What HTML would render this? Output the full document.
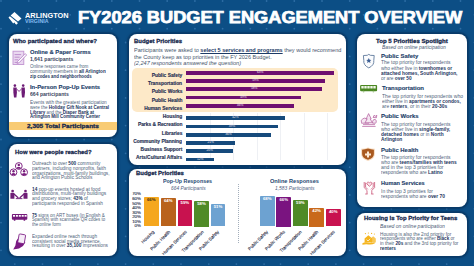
<!DOCTYPE html><html><head><meta charset="utf-8"><style>
*{margin:0;padding:0;box-sizing:border-box}
html,body{width:474px;height:266px;overflow:hidden;background:#0c4e85;font-family:"Liberation Sans",sans-serif}
.pn{position:absolute;background:#fff;border-radius:8px;box-shadow:0 0 0 1px #083a68,0 0 1.5px 1.5px rgba(6,45,85,.6)}
.t{position:absolute;white-space:nowrap;transform-origin:0 0}
.logoA{color:#fff;font-weight:700}
.logoV{color:#86bcef;font-weight:700}
.title{color:#fff;font-weight:700;-webkit-text-stroke:0.75px #fff}
.h{color:#17294d;font-weight:700;-webkit-text-stroke:0.28px #17294d}
.sub{color:#1b3d68;font-weight:700;-webkit-text-stroke:0.12px #1b3d68}
.cnt{color:#3a4560;font-weight:700}
.body{color:#4f5f7a}
.body b{color:#1d3560}
.mbody{color:#46546c}
.mbody b{color:#1c3a66}
.lab{color:#1f2f52;font-weight:700;-webkit-text-stroke:0.15px #1f2f52}
.ch{color:#244872;font-weight:700}
.ci{color:#4f6080;font-style:italic}
.ax{color:#26324d;-webkit-text-stroke:0.12px #26324d}
.ri{color:#4a5a75;font-style:italic}
.rt{color:#1b3d68;font-weight:700;-webkit-text-stroke:0.12px #1b3d68}
.rbody{color:#4f5f7a}
.rbody b{color:#1d3560}
</style></head><body><svg style="position:absolute;left:0;top:0" width="474" height="266"><g fill="#4583bb" opacity="0.6"><circle cx="1.0" cy="1.0" r="0.9"/><circle cx="14.8" cy="14.8" r="0.9"/><circle cx="1.0" cy="28.7" r="0.9"/><circle cx="14.8" cy="42.5" r="0.9"/><circle cx="1.0" cy="56.4" r="0.9"/><circle cx="14.8" cy="70.2" r="0.9"/><circle cx="1.0" cy="84.1" r="0.9"/><circle cx="14.8" cy="97.9" r="0.9"/><circle cx="1.0" cy="111.8" r="0.9"/><circle cx="14.8" cy="125.6" r="0.9"/><circle cx="1.0" cy="139.5" r="0.9"/><circle cx="14.8" cy="153.3" r="0.9"/><circle cx="1.0" cy="167.2" r="0.9"/><circle cx="14.8" cy="181.0" r="0.9"/><circle cx="1.0" cy="194.9" r="0.9"/><circle cx="14.8" cy="208.8" r="0.9"/><circle cx="1.0" cy="222.6" r="0.9"/><circle cx="14.8" cy="236.4" r="0.9"/><circle cx="1.0" cy="250.3" r="0.9"/><circle cx="14.8" cy="264.1" r="0.9"/><circle cx="28.7" cy="1.0" r="0.9"/><circle cx="42.5" cy="14.8" r="0.9"/><circle cx="28.7" cy="28.7" r="0.9"/><circle cx="42.5" cy="42.5" r="0.9"/><circle cx="28.7" cy="56.4" r="0.9"/><circle cx="42.5" cy="70.2" r="0.9"/><circle cx="28.7" cy="84.1" r="0.9"/><circle cx="42.5" cy="97.9" r="0.9"/><circle cx="28.7" cy="111.8" r="0.9"/><circle cx="42.5" cy="125.6" r="0.9"/><circle cx="28.7" cy="139.5" r="0.9"/><circle cx="42.5" cy="153.3" r="0.9"/><circle cx="28.7" cy="167.2" r="0.9"/><circle cx="42.5" cy="181.0" r="0.9"/><circle cx="28.7" cy="194.9" r="0.9"/><circle cx="42.5" cy="208.8" r="0.9"/><circle cx="28.7" cy="222.6" r="0.9"/><circle cx="42.5" cy="236.4" r="0.9"/><circle cx="28.7" cy="250.3" r="0.9"/><circle cx="42.5" cy="264.1" r="0.9"/><circle cx="56.4" cy="1.0" r="0.9"/><circle cx="70.2" cy="14.8" r="0.9"/><circle cx="56.4" cy="28.7" r="0.9"/><circle cx="70.2" cy="42.5" r="0.9"/><circle cx="56.4" cy="56.4" r="0.9"/><circle cx="70.2" cy="70.2" r="0.9"/><circle cx="56.4" cy="84.1" r="0.9"/><circle cx="70.2" cy="97.9" r="0.9"/><circle cx="56.4" cy="111.8" r="0.9"/><circle cx="70.2" cy="125.6" r="0.9"/><circle cx="56.4" cy="139.5" r="0.9"/><circle cx="70.2" cy="153.3" r="0.9"/><circle cx="56.4" cy="167.2" r="0.9"/><circle cx="70.2" cy="181.0" r="0.9"/><circle cx="56.4" cy="194.9" r="0.9"/><circle cx="70.2" cy="208.8" r="0.9"/><circle cx="56.4" cy="222.6" r="0.9"/><circle cx="70.2" cy="236.4" r="0.9"/><circle cx="56.4" cy="250.3" r="0.9"/><circle cx="70.2" cy="264.1" r="0.9"/><circle cx="84.1" cy="1.0" r="0.9"/><circle cx="97.9" cy="14.8" r="0.9"/><circle cx="84.1" cy="28.7" r="0.9"/><circle cx="97.9" cy="42.5" r="0.9"/><circle cx="84.1" cy="56.4" r="0.9"/><circle cx="97.9" cy="70.2" r="0.9"/><circle cx="84.1" cy="84.1" r="0.9"/><circle cx="97.9" cy="97.9" r="0.9"/><circle cx="84.1" cy="111.8" r="0.9"/><circle cx="97.9" cy="125.6" r="0.9"/><circle cx="84.1" cy="139.5" r="0.9"/><circle cx="97.9" cy="153.3" r="0.9"/><circle cx="84.1" cy="167.2" r="0.9"/><circle cx="97.9" cy="181.0" r="0.9"/><circle cx="84.1" cy="194.9" r="0.9"/><circle cx="97.9" cy="208.8" r="0.9"/><circle cx="84.1" cy="222.6" r="0.9"/><circle cx="97.9" cy="236.4" r="0.9"/><circle cx="84.1" cy="250.3" r="0.9"/><circle cx="97.9" cy="264.1" r="0.9"/><circle cx="111.8" cy="1.0" r="0.9"/><circle cx="125.6" cy="14.8" r="0.9"/><circle cx="111.8" cy="28.7" r="0.9"/><circle cx="125.6" cy="42.5" r="0.9"/><circle cx="111.8" cy="56.4" r="0.9"/><circle cx="125.6" cy="70.2" r="0.9"/><circle cx="111.8" cy="84.1" r="0.9"/><circle cx="125.6" cy="97.9" r="0.9"/><circle cx="111.8" cy="111.8" r="0.9"/><circle cx="125.6" cy="125.6" r="0.9"/><circle cx="111.8" cy="139.5" r="0.9"/><circle cx="125.6" cy="153.3" r="0.9"/><circle cx="111.8" cy="167.2" r="0.9"/><circle cx="125.6" cy="181.0" r="0.9"/><circle cx="111.8" cy="194.9" r="0.9"/><circle cx="125.6" cy="208.8" r="0.9"/><circle cx="111.8" cy="222.6" r="0.9"/><circle cx="125.6" cy="236.4" r="0.9"/><circle cx="111.8" cy="250.3" r="0.9"/><circle cx="125.6" cy="264.1" r="0.9"/><circle cx="139.5" cy="1.0" r="0.9"/><circle cx="153.3" cy="14.8" r="0.9"/><circle cx="139.5" cy="28.7" r="0.9"/><circle cx="153.3" cy="42.5" r="0.9"/><circle cx="139.5" cy="56.4" r="0.9"/><circle cx="153.3" cy="70.2" r="0.9"/><circle cx="139.5" cy="84.1" r="0.9"/><circle cx="153.3" cy="97.9" r="0.9"/><circle cx="139.5" cy="111.8" r="0.9"/><circle cx="153.3" cy="125.6" r="0.9"/><circle cx="139.5" cy="139.5" r="0.9"/><circle cx="153.3" cy="153.3" r="0.9"/><circle cx="139.5" cy="167.2" r="0.9"/><circle cx="153.3" cy="181.0" r="0.9"/><circle cx="139.5" cy="194.9" r="0.9"/><circle cx="153.3" cy="208.8" r="0.9"/><circle cx="139.5" cy="222.6" r="0.9"/><circle cx="153.3" cy="236.4" r="0.9"/><circle cx="139.5" cy="250.3" r="0.9"/><circle cx="153.3" cy="264.1" r="0.9"/><circle cx="167.2" cy="1.0" r="0.9"/><circle cx="181.0" cy="14.8" r="0.9"/><circle cx="167.2" cy="28.7" r="0.9"/><circle cx="181.0" cy="42.5" r="0.9"/><circle cx="167.2" cy="56.4" r="0.9"/><circle cx="181.0" cy="70.2" r="0.9"/><circle cx="167.2" cy="84.1" r="0.9"/><circle cx="181.0" cy="97.9" r="0.9"/><circle cx="167.2" cy="111.8" r="0.9"/><circle cx="181.0" cy="125.6" r="0.9"/><circle cx="167.2" cy="139.5" r="0.9"/><circle cx="181.0" cy="153.3" r="0.9"/><circle cx="167.2" cy="167.2" r="0.9"/><circle cx="181.0" cy="181.0" r="0.9"/><circle cx="167.2" cy="194.9" r="0.9"/><circle cx="181.0" cy="208.8" r="0.9"/><circle cx="167.2" cy="222.6" r="0.9"/><circle cx="181.0" cy="236.4" r="0.9"/><circle cx="167.2" cy="250.3" r="0.9"/><circle cx="181.0" cy="264.1" r="0.9"/><circle cx="194.9" cy="1.0" r="0.9"/><circle cx="208.8" cy="14.8" r="0.9"/><circle cx="194.9" cy="28.7" r="0.9"/><circle cx="208.8" cy="42.5" r="0.9"/><circle cx="194.9" cy="56.4" r="0.9"/><circle cx="208.8" cy="70.2" r="0.9"/><circle cx="194.9" cy="84.1" r="0.9"/><circle cx="208.8" cy="97.9" r="0.9"/><circle cx="194.9" cy="111.8" r="0.9"/><circle cx="208.8" cy="125.6" r="0.9"/><circle cx="194.9" cy="139.5" r="0.9"/><circle cx="208.8" cy="153.3" r="0.9"/><circle cx="194.9" cy="167.2" r="0.9"/><circle cx="208.8" cy="181.0" r="0.9"/><circle cx="194.9" cy="194.9" r="0.9"/><circle cx="208.8" cy="208.8" r="0.9"/><circle cx="194.9" cy="222.6" r="0.9"/><circle cx="208.8" cy="236.4" r="0.9"/><circle cx="194.9" cy="250.3" r="0.9"/><circle cx="208.8" cy="264.1" r="0.9"/><circle cx="222.6" cy="1.0" r="0.9"/><circle cx="236.4" cy="14.8" r="0.9"/><circle cx="222.6" cy="28.7" r="0.9"/><circle cx="236.4" cy="42.5" r="0.9"/><circle cx="222.6" cy="56.4" r="0.9"/><circle cx="236.4" cy="70.2" r="0.9"/><circle cx="222.6" cy="84.1" r="0.9"/><circle cx="236.4" cy="97.9" r="0.9"/><circle cx="222.6" cy="111.8" r="0.9"/><circle cx="236.4" cy="125.6" r="0.9"/><circle cx="222.6" cy="139.5" r="0.9"/><circle cx="236.4" cy="153.3" r="0.9"/><circle cx="222.6" cy="167.2" r="0.9"/><circle cx="236.4" cy="181.0" r="0.9"/><circle cx="222.6" cy="194.9" r="0.9"/><circle cx="236.4" cy="208.8" r="0.9"/><circle cx="222.6" cy="222.6" r="0.9"/><circle cx="236.4" cy="236.4" r="0.9"/><circle cx="222.6" cy="250.3" r="0.9"/><circle cx="236.4" cy="264.1" r="0.9"/><circle cx="250.3" cy="1.0" r="0.9"/><circle cx="264.1" cy="14.8" r="0.9"/><circle cx="250.3" cy="28.7" r="0.9"/><circle cx="264.1" cy="42.5" r="0.9"/><circle cx="250.3" cy="56.4" r="0.9"/><circle cx="264.1" cy="70.2" r="0.9"/><circle cx="250.3" cy="84.1" r="0.9"/><circle cx="264.1" cy="97.9" r="0.9"/><circle cx="250.3" cy="111.8" r="0.9"/><circle cx="264.1" cy="125.6" r="0.9"/><circle cx="250.3" cy="139.5" r="0.9"/><circle cx="264.1" cy="153.3" r="0.9"/><circle cx="250.3" cy="167.2" r="0.9"/><circle cx="264.1" cy="181.0" r="0.9"/><circle cx="250.3" cy="194.9" r="0.9"/><circle cx="264.1" cy="208.8" r="0.9"/><circle cx="250.3" cy="222.6" r="0.9"/><circle cx="264.1" cy="236.4" r="0.9"/><circle cx="250.3" cy="250.3" r="0.9"/><circle cx="264.1" cy="264.1" r="0.9"/><circle cx="266.6" cy="1.0" r="0.9"/><circle cx="280.5" cy="14.8" r="0.9"/><circle cx="266.6" cy="28.7" r="0.9"/><circle cx="280.5" cy="42.5" r="0.9"/><circle cx="266.6" cy="56.4" r="0.9"/><circle cx="280.5" cy="70.2" r="0.9"/><circle cx="266.6" cy="84.1" r="0.9"/><circle cx="280.5" cy="97.9" r="0.9"/><circle cx="266.6" cy="111.8" r="0.9"/><circle cx="280.5" cy="125.6" r="0.9"/><circle cx="266.6" cy="139.5" r="0.9"/><circle cx="280.5" cy="153.3" r="0.9"/><circle cx="266.6" cy="167.2" r="0.9"/><circle cx="280.5" cy="181.0" r="0.9"/><circle cx="266.6" cy="194.9" r="0.9"/><circle cx="280.5" cy="208.8" r="0.9"/><circle cx="266.6" cy="222.6" r="0.9"/><circle cx="280.5" cy="236.4" r="0.9"/><circle cx="266.6" cy="250.3" r="0.9"/><circle cx="280.5" cy="264.1" r="0.9"/><circle cx="294.3" cy="1.0" r="0.9"/><circle cx="308.2" cy="14.8" r="0.9"/><circle cx="294.3" cy="28.7" r="0.9"/><circle cx="308.2" cy="42.5" r="0.9"/><circle cx="294.3" cy="56.4" r="0.9"/><circle cx="308.2" cy="70.2" r="0.9"/><circle cx="294.3" cy="84.1" r="0.9"/><circle cx="308.2" cy="97.9" r="0.9"/><circle cx="294.3" cy="111.8" r="0.9"/><circle cx="308.2" cy="125.6" r="0.9"/><circle cx="294.3" cy="139.5" r="0.9"/><circle cx="308.2" cy="153.3" r="0.9"/><circle cx="294.3" cy="167.2" r="0.9"/><circle cx="308.2" cy="181.0" r="0.9"/><circle cx="294.3" cy="194.9" r="0.9"/><circle cx="308.2" cy="208.8" r="0.9"/><circle cx="294.3" cy="222.6" r="0.9"/><circle cx="308.2" cy="236.4" r="0.9"/><circle cx="294.3" cy="250.3" r="0.9"/><circle cx="308.2" cy="264.1" r="0.9"/><circle cx="322.0" cy="1.0" r="0.9"/><circle cx="335.9" cy="14.8" r="0.9"/><circle cx="322.0" cy="28.7" r="0.9"/><circle cx="335.9" cy="42.5" r="0.9"/><circle cx="322.0" cy="56.4" r="0.9"/><circle cx="335.9" cy="70.2" r="0.9"/><circle cx="322.0" cy="84.1" r="0.9"/><circle cx="335.9" cy="97.9" r="0.9"/><circle cx="322.0" cy="111.8" r="0.9"/><circle cx="335.9" cy="125.6" r="0.9"/><circle cx="322.0" cy="139.5" r="0.9"/><circle cx="335.9" cy="153.3" r="0.9"/><circle cx="322.0" cy="167.2" r="0.9"/><circle cx="335.9" cy="181.0" r="0.9"/><circle cx="322.0" cy="194.9" r="0.9"/><circle cx="335.9" cy="208.8" r="0.9"/><circle cx="322.0" cy="222.6" r="0.9"/><circle cx="335.9" cy="236.4" r="0.9"/><circle cx="322.0" cy="250.3" r="0.9"/><circle cx="335.9" cy="264.1" r="0.9"/><circle cx="349.7" cy="1.0" r="0.9"/><circle cx="363.6" cy="14.8" r="0.9"/><circle cx="349.7" cy="28.7" r="0.9"/><circle cx="363.6" cy="42.5" r="0.9"/><circle cx="349.7" cy="56.4" r="0.9"/><circle cx="363.6" cy="70.2" r="0.9"/><circle cx="349.7" cy="84.1" r="0.9"/><circle cx="363.6" cy="97.9" r="0.9"/><circle cx="349.7" cy="111.8" r="0.9"/><circle cx="363.6" cy="125.6" r="0.9"/><circle cx="349.7" cy="139.5" r="0.9"/><circle cx="363.6" cy="153.3" r="0.9"/><circle cx="349.7" cy="167.2" r="0.9"/><circle cx="363.6" cy="181.0" r="0.9"/><circle cx="349.7" cy="194.9" r="0.9"/><circle cx="363.6" cy="208.8" r="0.9"/><circle cx="349.7" cy="222.6" r="0.9"/><circle cx="363.6" cy="236.4" r="0.9"/><circle cx="349.7" cy="250.3" r="0.9"/><circle cx="363.6" cy="264.1" r="0.9"/><circle cx="377.4" cy="1.0" r="0.9"/><circle cx="391.3" cy="14.8" r="0.9"/><circle cx="377.4" cy="28.7" r="0.9"/><circle cx="391.3" cy="42.5" r="0.9"/><circle cx="377.4" cy="56.4" r="0.9"/><circle cx="391.3" cy="70.2" r="0.9"/><circle cx="377.4" cy="84.1" r="0.9"/><circle cx="391.3" cy="97.9" r="0.9"/><circle cx="377.4" cy="111.8" r="0.9"/><circle cx="391.3" cy="125.6" r="0.9"/><circle cx="377.4" cy="139.5" r="0.9"/><circle cx="391.3" cy="153.3" r="0.9"/><circle cx="377.4" cy="167.2" r="0.9"/><circle cx="391.3" cy="181.0" r="0.9"/><circle cx="377.4" cy="194.9" r="0.9"/><circle cx="391.3" cy="208.8" r="0.9"/><circle cx="377.4" cy="222.6" r="0.9"/><circle cx="391.3" cy="236.4" r="0.9"/><circle cx="377.4" cy="250.3" r="0.9"/><circle cx="391.3" cy="264.1" r="0.9"/><circle cx="405.1" cy="1.0" r="0.9"/><circle cx="419.0" cy="14.8" r="0.9"/><circle cx="405.1" cy="28.7" r="0.9"/><circle cx="419.0" cy="42.5" r="0.9"/><circle cx="405.1" cy="56.4" r="0.9"/><circle cx="419.0" cy="70.2" r="0.9"/><circle cx="405.1" cy="84.1" r="0.9"/><circle cx="419.0" cy="97.9" r="0.9"/><circle cx="405.1" cy="111.8" r="0.9"/><circle cx="419.0" cy="125.6" r="0.9"/><circle cx="405.1" cy="139.5" r="0.9"/><circle cx="419.0" cy="153.3" r="0.9"/><circle cx="405.1" cy="167.2" r="0.9"/><circle cx="419.0" cy="181.0" r="0.9"/><circle cx="405.1" cy="194.9" r="0.9"/><circle cx="419.0" cy="208.8" r="0.9"/><circle cx="405.1" cy="222.6" r="0.9"/><circle cx="419.0" cy="236.4" r="0.9"/><circle cx="405.1" cy="250.3" r="0.9"/><circle cx="419.0" cy="264.1" r="0.9"/><circle cx="432.8" cy="1.0" r="0.9"/><circle cx="446.7" cy="14.8" r="0.9"/><circle cx="432.8" cy="28.7" r="0.9"/><circle cx="446.7" cy="42.5" r="0.9"/><circle cx="432.8" cy="56.4" r="0.9"/><circle cx="446.7" cy="70.2" r="0.9"/><circle cx="432.8" cy="84.1" r="0.9"/><circle cx="446.7" cy="97.9" r="0.9"/><circle cx="432.8" cy="111.8" r="0.9"/><circle cx="446.7" cy="125.6" r="0.9"/><circle cx="432.8" cy="139.5" r="0.9"/><circle cx="446.7" cy="153.3" r="0.9"/><circle cx="432.8" cy="167.2" r="0.9"/><circle cx="446.7" cy="181.0" r="0.9"/><circle cx="432.8" cy="194.9" r="0.9"/><circle cx="446.7" cy="208.8" r="0.9"/><circle cx="432.8" cy="222.6" r="0.9"/><circle cx="446.7" cy="236.4" r="0.9"/><circle cx="432.8" cy="250.3" r="0.9"/><circle cx="446.7" cy="264.1" r="0.9"/><circle cx="460.5" cy="1.0" r="0.9"/><circle cx="474.4" cy="14.8" r="0.9"/><circle cx="460.5" cy="28.7" r="0.9"/><circle cx="474.4" cy="42.5" r="0.9"/><circle cx="460.5" cy="56.4" r="0.9"/><circle cx="474.4" cy="70.2" r="0.9"/><circle cx="460.5" cy="84.1" r="0.9"/><circle cx="474.4" cy="97.9" r="0.9"/><circle cx="460.5" cy="111.8" r="0.9"/><circle cx="474.4" cy="125.6" r="0.9"/><circle cx="460.5" cy="139.5" r="0.9"/><circle cx="474.4" cy="153.3" r="0.9"/><circle cx="460.5" cy="167.2" r="0.9"/><circle cx="474.4" cy="181.0" r="0.9"/><circle cx="460.5" cy="194.9" r="0.9"/><circle cx="474.4" cy="208.8" r="0.9"/><circle cx="460.5" cy="222.6" r="0.9"/><circle cx="474.4" cy="236.4" r="0.9"/><circle cx="460.5" cy="250.3" r="0.9"/><circle cx="474.4" cy="264.1" r="0.9"/></g></svg><!-- panels -->
<div class="pn" style="left:8.5px;top:34px;width:108px;height:103px"></div>
<div class="pn" style="left:8.5px;top:144px;width:108px;height:112px"></div>
<div class="pn" style="left:128.5px;top:34px;width:217px;height:130.5px"></div>
<div class="pn" style="left:128.5px;top:168.5px;width:217px;height:87.5px"></div>
<div class="pn" style="left:357px;top:34px;width:110px;height:173px"></div>
<div class="pn" style="left:357px;top:213px;width:110px;height:43px"></div>
<!-- total bar -->
<div style="position:absolute;left:8.5px;top:122px;width:108px;height:7.6px;background:#f8cb74"></div>
<!-- band -->
<div style="position:absolute;left:131.8px;top:68.4px;width:206.2px;height:44px;background:#fde9c8;border-radius:5px"></div>
<div style="position:absolute;left:209.6px;top:113px;width:0.5px;height:47px;background:#eef0f4"></div>
<div style="position:absolute;left:233.1px;top:113px;width:0.5px;height:47px;background:#eef0f4"></div>
<div style="position:absolute;left:256.6px;top:113px;width:0.5px;height:47px;background:#eef0f4"></div>
<div style="position:absolute;left:280.3px;top:113px;width:0.5px;height:47px;background:#eef0f4"></div>
<div style="position:absolute;left:303.8px;top:113px;width:0.5px;height:47px;background:#eef0f4"></div>
<div style="position:absolute;left:327.1px;top:113px;width:0.5px;height:47px;background:#eef0f4"></div>
<div style="position:absolute;left:186.1px;top:70.85px;width:148.10px;height:3.7px;background:#6e0f70;color:#f3e9f5;font-size:3.2px;line-height:3.7px;text-align:center;font-family:'Liberation Sans',sans-serif">63%</div>
<div style="position:absolute;left:186.1px;top:79.12px;width:138.70px;height:3.7px;background:#6e0f70;color:#f3e9f5;font-size:3.2px;line-height:3.7px;text-align:center;font-family:'Liberation Sans',sans-serif">59%</div>
<div style="position:absolute;left:186.1px;top:87.39px;width:136.20px;height:3.7px;background:#6e0f70;color:#f3e9f5;font-size:3.2px;line-height:3.7px;text-align:center;font-family:'Liberation Sans',sans-serif">58%</div>
<div style="position:absolute;left:186.1px;top:95.66px;width:114.80px;height:3.7px;background:#6e0f70;color:#f3e9f5;font-size:3.2px;line-height:3.7px;text-align:center;font-family:'Liberation Sans',sans-serif">49%</div>
<div style="position:absolute;left:186.1px;top:103.93px;width:108.30px;height:3.7px;background:#6e0f70;color:#f3e9f5;font-size:3.2px;line-height:3.7px;text-align:center;font-family:'Liberation Sans',sans-serif">46%</div>
<div style="position:absolute;left:186.1px;top:116.30px;width:98.60px;height:3.7px;background:#164a7c;color:#f3e9f5;font-size:3.2px;line-height:3.7px;text-align:center;font-family:'Liberation Sans',sans-serif">42%</div>
<div style="position:absolute;left:186.1px;top:124.57px;width:91.60px;height:3.7px;background:#164a7c;color:#f3e9f5;font-size:3.2px;line-height:3.7px;text-align:center;font-family:'Liberation Sans',sans-serif">39%</div>
<div style="position:absolute;left:186.1px;top:132.84px;width:84.50px;height:3.7px;background:#164a7c;color:#f3e9f5;font-size:3.2px;line-height:3.7px;text-align:center;font-family:'Liberation Sans',sans-serif">36%</div>
<div style="position:absolute;left:186.1px;top:141.11px;width:49.30px;height:3.7px;background:#164a7c;color:#f3e9f5;font-size:3.2px;line-height:3.7px;text-align:center;font-family:'Liberation Sans',sans-serif">21%</div>
<div style="position:absolute;left:186.1px;top:149.38px;width:47.20px;height:3.7px;background:#164a7c;color:#f3e9f5;font-size:3.2px;line-height:3.7px;text-align:center;font-family:'Liberation Sans',sans-serif">20%</div>
<div style="position:absolute;left:186.1px;top:157.65px;width:28.00px;height:3.7px;background:#164a7c;color:#f3e9f5;font-size:3.2px;line-height:3.7px;text-align:center;font-family:'Liberation Sans',sans-serif">12%</div>
<div style="position:absolute;left:143.8px;top:196.7px;width:14.8px;height:29.8px;background:#f5a71e;border-radius:0.8px 0.8px 0 0;color:#3a2a10;font-size:4.3px;font-weight:700;text-align:center;padding-top:1.2px;line-height:4.3px;font-family:'Liberation Sans',sans-serif">66%</div>
<div style="position:absolute;left:160.9px;top:197.6px;width:14.8px;height:28.9px;background:#b9621c;border-radius:0.8px 0.8px 0 0;color:#fff;font-size:4.3px;font-weight:700;text-align:center;padding-top:1.2px;line-height:4.3px;font-family:'Liberation Sans',sans-serif">64%</div>
<div style="position:absolute;left:177.5px;top:200.2px;width:14.8px;height:26.3px;background:#c8124f;border-radius:0.8px 0.8px 0 0;color:#fff;font-size:4.3px;font-weight:700;text-align:center;padding-top:1.2px;line-height:4.3px;font-family:'Liberation Sans',sans-serif">59%</div>
<div style="position:absolute;left:194.1px;top:200.5px;width:14.8px;height:26.0px;background:#4f8a27;border-radius:0.8px 0.8px 0 0;color:#fff;font-size:4.3px;font-weight:700;text-align:center;padding-top:1.2px;line-height:4.3px;font-family:'Liberation Sans',sans-serif">58%</div>
<div style="position:absolute;left:210.6px;top:203.8px;width:14.8px;height:22.7px;background:#6da2d1;border-radius:0.8px 0.8px 0 0;color:#fff;font-size:4.3px;font-weight:700;text-align:center;padding-top:1.2px;line-height:4.3px;font-family:'Liberation Sans',sans-serif">51%</div>
<div style="position:absolute;left:259.8px;top:196.2px;width:14.8px;height:30.3px;background:#6da2d1;border-radius:0.8px 0.8px 0 0;color:#fff;font-size:4.3px;font-weight:700;text-align:center;padding-top:1.2px;line-height:4.3px;font-family:'Liberation Sans',sans-serif">68%</div>
<div style="position:absolute;left:276.3px;top:197.0px;width:14.8px;height:29.5px;background:#7a1480;border-radius:0.8px 0.8px 0 0;color:#fff;font-size:4.3px;font-weight:700;text-align:center;padding-top:1.2px;line-height:4.3px;font-family:'Liberation Sans',sans-serif">66%</div>
<div style="position:absolute;left:293.0px;top:200.2px;width:14.8px;height:26.3px;background:#4f8a27;border-radius:0.8px 0.8px 0 0;color:#fff;font-size:4.3px;font-weight:700;text-align:center;padding-top:1.2px;line-height:4.3px;font-family:'Liberation Sans',sans-serif">59%</div>
<div style="position:absolute;left:309.2px;top:208.0px;width:14.8px;height:18.5px;background:#c9691b;border-radius:0.8px 0.8px 0 0;color:#fff;font-size:4.3px;font-weight:700;text-align:center;padding-top:1.2px;line-height:4.3px;font-family:'Liberation Sans',sans-serif">42%</div>
<div style="position:absolute;left:325.8px;top:208.8px;width:14.8px;height:17.7px;background:#c8124f;border-radius:0.8px 0.8px 0 0;color:#fff;font-size:4.3px;font-weight:700;text-align:center;padding-top:1.2px;line-height:4.3px;font-family:'Liberation Sans',sans-serif">40%</div>
<div style="position:absolute;left:238px;top:184px;width:0;height:59px;border-left:1px dotted #a3aebb"></div>
<div style="position:absolute;right:321.7px;top:229.6px;font-size:4.5px;line-height:4.5px;color:#1f2a45;-webkit-text-stroke:0.12px #1f2a45;white-space:nowrap;transform-origin:100% 0;transform:rotate(-45deg)">Housing</div>
<div style="position:absolute;right:305.2px;top:229.6px;font-size:4.5px;line-height:4.5px;color:#1f2a45;-webkit-text-stroke:0.12px #1f2a45;white-space:nowrap;transform-origin:100% 0;transform:rotate(-45deg)">Public Health</div>
<div style="position:absolute;right:289.4px;top:229.6px;font-size:4.5px;line-height:4.5px;color:#1f2a45;-webkit-text-stroke:0.12px #1f2a45;white-space:nowrap;transform-origin:100% 0;transform:rotate(-45deg)">Human Services</div>
<div style="position:absolute;right:272.5px;top:229.6px;font-size:4.5px;line-height:4.5px;color:#1f2a45;-webkit-text-stroke:0.12px #1f2a45;white-space:nowrap;transform-origin:100% 0;transform:rotate(-45deg)">Transportation</div>
<div style="position:absolute;right:256.7px;top:229.6px;font-size:4.5px;line-height:4.5px;color:#1f2a45;-webkit-text-stroke:0.12px #1f2a45;white-space:nowrap;transform-origin:100% 0;transform:rotate(-45deg)">Public Safety</div>
<div style="position:absolute;right:207.5px;top:229.6px;font-size:4.5px;line-height:4.5px;color:#1f2a45;-webkit-text-stroke:0.12px #1f2a45;white-space:nowrap;transform-origin:100% 0;transform:rotate(-45deg)">Public Safety</div>
<div style="position:absolute;right:191.3px;top:229.6px;font-size:4.5px;line-height:4.5px;color:#1f2a45;-webkit-text-stroke:0.12px #1f2a45;white-space:nowrap;transform-origin:100% 0;transform:rotate(-45deg)">Public Works</div>
<div style="position:absolute;right:174.4px;top:229.6px;font-size:4.5px;line-height:4.5px;color:#1f2a45;-webkit-text-stroke:0.12px #1f2a45;white-space:nowrap;transform-origin:100% 0;transform:rotate(-45deg)">Transportation</div>
<div style="position:absolute;right:157.5px;top:229.6px;font-size:4.5px;line-height:4.5px;color:#1f2a45;-webkit-text-stroke:0.12px #1f2a45;white-space:nowrap;transform-origin:100% 0;transform:rotate(-45deg)">Public Health</div>
<div style="position:absolute;right:140.7px;top:229.6px;font-size:4.5px;line-height:4.5px;color:#1f2a45;-webkit-text-stroke:0.12px #1f2a45;white-space:nowrap;transform-origin:100% 0;transform:rotate(-45deg)">Human Services</div>
<!-- logo -->
<svg style="position:absolute;left:0;top:0" width="474" height="266" viewBox="0 0 474 266">
  <g fill="#fff">
    <path d="M14.5 11.9 L21.5 18.4 L18.0 21.6 L10.6 15.6 Z"/>
    <path d="M9.9 16.3 L17.3 22.2 L15.6 23.7 L14.3 22.5 L13.2 23.4 L8.5 17.6 Z"/>
    <path d="M14.9 23.1 L16.6 21.7 L17.9 23.2 L16.2 24.8 Z"/>
  </g>
</svg>

<svg style="position:absolute;left:0;top:0" width="474" height="266" viewBox="0 0 474 266">
 <!-- form icon -->
 <rect x="13" y="51.2" width="10.8" height="13.3" fill="#ead8f0" stroke="#c193d0" stroke-width="0.9"/>
 <path d="M14.6 54.6h6.5M14.6 57.2h5M14.6 59.8h3.5M14.6 62.4h2.5" stroke="#b27cc4" stroke-width="0.8"/>
 <path d="M17.6 61.4 L25.2 53.6 L26.6 55 L19 62.8 L17 63.3 Z" fill="#fff" stroke="#b078c2" stroke-width="0.8"/>
 <!-- two people -->
 <g fill="#6e1c76">
  <circle cx="14.9" cy="85.6" r="1.3"/><circle cx="23.2" cy="85.6" r="1.3"/>
  <path d="M13.3 87.5 h3.3 l0.3 5 -0.5 5.1 h-2.4 l-0.6-5.1z"/>
  <path d="M21.5 87.5 h3.3 l0.2 5 -0.6 5.1 h-2.4 l-0.5-5.1z"/>
 </g>
 <path d="M16.4 88.8 L19.05 91.4 L21.7 88.8" fill="none" stroke="#7e2a86" stroke-width="0.9"/>
 <!-- network -->
 <g fill="none" stroke="#7a1f7e" stroke-width="0.95">
  <circle cx="18.8" cy="166" r="3.4"/><circle cx="13.5" cy="172.3" r="3.4"/><circle cx="24.1" cy="172.3" r="3.4"/>
 </g>
 <g fill="#7a1f7e">
  <circle cx="18.8" cy="164.9" r="1.2"/><path d="M16.6 168.8 a2.2 2 0 0 1 4.4 0z"/>
  <circle cx="13.5" cy="171.2" r="1.2"/><path d="M11.3 175.1 a2.2 2 0 0 1 4.4 0z"/>
  <circle cx="24.1" cy="171.2" r="1.2"/><path d="M21.9 175.1 a2.2 2 0 0 1 4.4 0z"/>
 </g>
 <!-- meeting -->
 <g fill="#6e1c76">
  <circle cx="12.6" cy="191" r="1.35"/><circle cx="25.5" cy="191" r="1.35"/>
  <path d="M10.4 193.6 q0-0.8 0.8-0.8 h2.4 q0.8 0 0.8 0.8 v5.2 h-4z"/>
  <path d="M23.5 193.6 q0-0.8 0.8-0.8 h2.4 q0.8 0 0.8 0.8 v5.2 h-4z"/>
  <rect x="15.8" y="198.2" width="6.6" height="0.9"/>
 </g>
 <path d="M14 194 L18.4 198 M24 194 L19.6 198" stroke="#6e1c76" stroke-width="1.2"/>
 <!-- bus L -->
 <rect x="11.9" y="213.9" width="15.4" height="5.8" rx="1" fill="#751a7b"/>
 <g fill="#fff"><rect x="13" y="215" width="2" height="1.7"/><rect x="15.9" y="215" width="2" height="1.7"/><rect x="18.8" y="215" width="2" height="1.7"/><rect x="21.7" y="215" width="2" height="1.7"/><rect x="24.6" y="215" width="2" height="1.7"/></g>
 <circle cx="14.6" cy="219.9" r="0.9" fill="#751a7b"/><circle cx="24.4" cy="219.9" r="0.9" fill="#751a7b"/>
 <!-- phone hand -->
 <path d="M13.2 249.6 L15.4 245.5 L16.2 241 L18 238.5 L20.5 241 L25.4 242.2 L23 246 L19 248.4 Z" fill="#7a1a82"/>
 <rect x="18.4" y="234.3" width="6.6" height="9" rx="1" transform="rotate(10 21.7 238.8)" fill="#f6ecf8" stroke="#7a1a82" stroke-width="0.8"/>
 <!-- shield police -->
 <path d="M368.8 54.3 L370.3 55.3 L374.2 55.5 L373.8 60.5 Q374.4 65.2 368.8 67.9 Q363.2 65.2 363.8 60.5 L363.4 55.5 L367.3 55.3 Z" fill="#fbfcfe" stroke="#6f87a6" stroke-width="1"/>
 <path d="M368.8 58.1 l0.8 1.6 1.8 0.2 -1.35 1.2 0.4 1.8 -1.65 -0.9 -1.65 0.9 0.4 -1.8 -1.35 -1.2 1.8 -0.2z" fill="#3d5f94"/>
 <!-- bus R green -->
 <rect x="360.1" y="84.9" width="17" height="6.4" rx="1" fill="#4a8622"/>
 <g fill="#f1f7e8"><rect x="361.3" y="86" width="2.4" height="2.5"/><rect x="364.3" y="86" width="2.4" height="2.5"/><rect x="367.3" y="86" width="2.4" height="2.5"/><rect x="370.3" y="86" width="2.4" height="2.5"/><rect x="373.3" y="86" width="2.4" height="2.5"/></g>
 <circle cx="363.6" cy="91.6" r="0.9" fill="#a8c890"/><circle cx="373.4" cy="91.6" r="0.9" fill="#a8c890"/>
 <!-- public works icon -->
 <g fill="#f4e6f1" stroke="#b0589b" stroke-width="0.7">
  <path d="M361.5 122.6 q-1.2-2.6 1.2-3.6 q1.4-1.6 3.6-0.4 l2.6 2 v2.6 h-7.4z"/>
  <path d="M368.6 113.6 l2.6 5.2 l-1 0 l2.2 4 h-7.4 l2.2-4 h-1z"/>
  <path d="M372.6 121.4 q0.4-2.2 2.4-2 q1.8 0.6 1.2 2.8 l-0.6 1h-3z"/>
  <path d="M373 117.4 l1.4-2.4 1.2 1.4 1.2-1.2 -0.4 2.6z"/>
 </g>
 <path d="M363 124.6 h12 M362.2 126.4 h13.4" stroke="#b0589b" stroke-width="0.7"/>
 <!-- public health shield -->
 <path d="M368 147.4 Q371.5 148.6 374.9 148.8 L374.9 154 Q374.9 158.9 368 160.9 Q361.1 158.9 361.1 154 L361.1 148.8 Q364.5 148.6 368 147.4 Z" fill="#f7dcc2"/>
 <path d="M368 148.6 Q371 149.6 373.9 149.7 L373.9 154 Q373.9 158 368 159.8 Q362.1 158 362.1 154 L362.1 149.7 Q365 149.6 368 148.6 Z" fill="#a9591f"/>
 <path d="M367 151.6h2v2h2v2h-2v2h-2v-2h-2v-2h2z" fill="#fbe9d6"/>
 <!-- human services -->
 <g fill="none" stroke="#cf6585" stroke-width="0.9">
  <path d="M369.4 182.8 c-1.1-1.3-3-0.4-2.5 1.1 l2.5 2.4 2.5-2.4 c0.5-1.5-1.4-2.4-2.5-1.1z" fill="#fbe3ea"/>
  <path d="M364.2 182 v5.6 l2.8 2.8 v3.6 M374.6 182 v5.6 l-2.8 2.8 v3.6"/>
  <path d="M365.6 182.6 v4.6 l2.2 2.2 M373.2 182.6 v4.6 l-2.2 2.2"/>
  <path d="M365.2 194 h2.4 M371.2 194 h2.4"/>
 </g>
 <!-- house gold -->
 <g fill="#f5b51e">
  <path d="M364.6 238.6 l3.8-3.4 3.8 3.4 v4 h-7.6z"/>
  <path d="M370.6 238.6 l2.6-2.4 2.6 2.4 v4 h-5.2z" opacity="0.75"/>
  <path d="M362.4 243.2 q3-1.6 6.2-0.4 q3 0.6 5.8-0.6 l0.6 1 q-3.2 1.8-6.6 1.2 q-3-0.5-6 0.4z"/>
  <circle cx="365.4" cy="233.6" r="0.6"/><circle cx="368.4" cy="233" r="0.6"/><circle cx="371.6" cy="233.4" r="0.6"/><circle cx="374.4" cy="234" r="0.6"/>
 </g>
 <path d="M366.6 239.6 l1.4 1.4 2.2-2.2" fill="none" stroke="#fff" stroke-width="0.7"/>
</svg>


<div id="t0" class="t logoA" style="left:25.40px;top:13.41px;font-size:6.6px;line-height:6.6px;transform:scaleX(1.1157)">ARLINGTON</div>
<div id="t1" class="t logoV" style="left:25.40px;top:20.49px;font-size:4.5px;line-height:4.5px;transform:scaleX(1.1791)">VIRGINIA</div>
<div id="t2" class="t title" style="left:78.10px;top:9.08px;font-size:16.2px;line-height:16.2px;transform:scaleX(1.1250)">FY2026 BUDGET ENGAGEMENT OVERVIEW</div>
<div id="t3" class="t h" style="left:13.30px;top:37.84px;font-size:6.1px;line-height:6.1px;transform:scaleX(0.9884)">Who participated and where?</div>
<div id="t4" class="t sub" style="left:30.20px;top:49.87px;font-size:5.7px;line-height:5.7px;transform:scaleX(1.0145)">Online &amp; Paper Forms</div>
<div id="t5" class="t cnt" style="left:30.20px;top:56.78px;font-size:5.1px;line-height:5.1px;transform:scaleX(1.0059)">1,641 participants</div>
<div id="t6" class="t body" style="left:30.20px;top:64.41px;font-size:5.3px;line-height:5.3px;transform:scaleX(0.8624)">Online responses came from</div>
<div id="t7" class="t body" style="left:30.20px;top:69.31px;font-size:5.3px;line-height:5.3px;transform:scaleX(0.8707)">community members in <b>all Arlington</b></div>
<div id="t8" class="t body" style="left:30.20px;top:74.21px;font-size:5.3px;line-height:5.3px;transform:scaleX(0.8222)"><b>zip codes and neighborhoods</b></div>
<div id="t9" class="t sub" style="left:30.20px;top:84.77px;font-size:5.7px;line-height:5.7px;transform:scaleX(1.0269)">In-Person Pop-Up Events</div>
<div id="t10" class="t cnt" style="left:30.30px;top:92.08px;font-size:5.1px;line-height:5.1px;transform:scaleX(1.0001)">664 participants</div>
<div id="t11" class="t body" style="left:30.20px;top:100.21px;font-size:5.3px;line-height:5.3px;transform:scaleX(0.8859)">Events with the greatest participation</div>
<div id="t12" class="t body" style="left:30.20px;top:104.71px;font-size:5.3px;line-height:5.3px;transform:scaleX(0.8585)">were the <b>Holiday Gift Nook at Central</b></div>
<div id="t13" class="t body" style="left:30.20px;top:109.51px;font-size:5.3px;line-height:5.3px;transform:scaleX(0.8469)"><b>Library</b> and the <b>Diaper Bank at</b></div>
<div id="t14" class="t body" style="left:30.20px;top:114.31px;font-size:5.3px;line-height:5.3px;transform:scaleX(0.8476)"><b>Arlington Mill Community Center</b></div>
<div id="t15" class="t h" style="left:26.70px;top:123.57px;font-size:5.7px;line-height:5.7px;transform:scaleX(1.1390)">2,305 Total Participants</div>
<div id="t16" class="t h" style="left:15.00px;top:148.64px;font-size:6.1px;line-height:6.1px;transform:scaleX(0.9748)">How were people reached?</div>
<div id="t17" class="t body" style="left:32.00px;top:160.91px;font-size:5.3px;line-height:5.3px;transform:scaleX(0.8885)">Outreach to over <b>500</b> community</div>
<div id="t18" class="t body" style="left:32.00px;top:165.71px;font-size:5.3px;line-height:5.3px;transform:scaleX(0.9125)">partners, including nonprofits, faith</div>
<div id="t19" class="t body" style="left:32.00px;top:170.51px;font-size:5.3px;line-height:5.3px;transform:scaleX(0.9119)">organizations, multi-family buildings,</div>
<div id="t20" class="t body" style="left:32.00px;top:175.21px;font-size:5.3px;line-height:5.3px;transform:scaleX(0.8981)">and Arlington Public Schools</div>
<div id="t21" class="t body" style="left:32.00px;top:186.71px;font-size:5.3px;line-height:5.3px;transform:scaleX(0.8987)"><b>14</b> pop-up events hosted at food</div>
<div id="t22" class="t body" style="left:32.00px;top:191.41px;font-size:5.3px;line-height:5.3px;transform:scaleX(0.9244)">distributions, multi-family buildings</div>
<div id="t23" class="t body" style="left:32.00px;top:196.21px;font-size:5.3px;line-height:5.3px;transform:scaleX(0.8813)">and grocery stores; <b>43%</b> of</div>
<div id="t24" class="t body" style="left:32.00px;top:201.11px;font-size:5.3px;line-height:5.3px;transform:scaleX(0.8883)">participants responded in Spanish</div>
<div id="t25" class="t body" style="left:32.00px;top:212.51px;font-size:5.3px;line-height:5.3px;transform:scaleX(0.8513)"><b>75</b> signs on ART buses (in English &amp;</div>
<div id="t26" class="t body" style="left:32.00px;top:217.21px;font-size:5.3px;line-height:5.3px;transform:scaleX(0.8274)">Spanish) with scannable QR codes to</div>
<div id="t27" class="t body" style="left:32.00px;top:221.91px;font-size:5.3px;line-height:5.3px;transform:scaleX(0.8274)">the online form</div>
<div id="t28" class="t body" style="left:31.80px;top:233.91px;font-size:5.3px;line-height:5.3px;transform:scaleX(0.8829)">Expanded online reach through</div>
<div id="t29" class="t body" style="left:31.80px;top:238.51px;font-size:5.3px;line-height:5.3px;transform:scaleX(0.8654)">consistent social media presence,</div>
<div id="t30" class="t body" style="left:31.80px;top:243.11px;font-size:5.3px;line-height:5.3px;transform:scaleX(0.8961)">resulting in over <b>35,100</b> impressions</div>
<div id="t31" class="t h" style="left:133.70px;top:37.84px;font-size:6.1px;line-height:6.1px;transform:scaleX(0.9794)">Budget Priorities</div>
<div id="t32" class="t mbody" style="left:133.70px;top:48.04px;font-size:5.5px;line-height:5.5px;transform:scaleX(1.0045)">Participants were asked to <b><u>select 5 services and programs</u></b> they would recommend</div>
<div id="t33" class="t mbody" style="left:133.70px;top:54.64px;font-size:5.5px;line-height:5.5px;transform:scaleX(1.0082)">the County keep as top priorities in the FY 2026 Budget.</div>
<div id="t34" class="t mbody" style="left:133.70px;top:61.04px;font-size:5.5px;line-height:5.5px;transform:scaleX(1.0084)"><i>(2,247 respondents answered the question)</i></div>
<div id="t35" class="t lab" style="right:291.60px;top:72.71px;font-size:5.3px;line-height:5.3px;transform-origin:100% 0;transform:scaleX(0.9201)">Public Safety</div>
<div id="t36" class="t lab" style="right:291.60px;top:80.98px;font-size:5.3px;line-height:5.3px;transform-origin:100% 0;transform:scaleX(0.9201)">Transportation</div>
<div id="t37" class="t lab" style="right:291.60px;top:89.25px;font-size:5.3px;line-height:5.3px;transform-origin:100% 0;transform:scaleX(0.9201)">Public Works</div>
<div id="t38" class="t lab" style="right:291.60px;top:97.52px;font-size:5.3px;line-height:5.3px;transform-origin:100% 0;transform:scaleX(0.9201)">Public Health</div>
<div id="t39" class="t lab" style="right:291.60px;top:105.79px;font-size:5.3px;line-height:5.3px;transform-origin:100% 0;transform:scaleX(0.9201)">Human Services</div>
<div id="t40" class="t lab" style="right:291.60px;top:114.06px;font-size:5.3px;line-height:5.3px;transform-origin:100% 0;transform:scaleX(0.9201)">Housing</div>
<div id="t41" class="t lab" style="right:291.60px;top:122.33px;font-size:5.3px;line-height:5.3px;transform-origin:100% 0;transform:scaleX(0.9201)">Parks &amp; Recreation</div>
<div id="t42" class="t lab" style="right:291.60px;top:130.60px;font-size:5.3px;line-height:5.3px;transform-origin:100% 0;transform:scaleX(0.9201)">Libraries</div>
<div id="t43" class="t lab" style="right:291.60px;top:138.87px;font-size:5.3px;line-height:5.3px;transform-origin:100% 0;transform:scaleX(0.9201)">Community Planning</div>
<div id="t44" class="t lab" style="right:291.60px;top:147.14px;font-size:5.3px;line-height:5.3px;transform-origin:100% 0;transform:scaleX(0.9201)">Business Support</div>
<div id="t45" class="t lab" style="right:291.60px;top:155.41px;font-size:5.3px;line-height:5.3px;transform-origin:100% 0;transform:scaleX(0.9201)">Arts/Cultural Affairs</div>
<div id="t46" class="t h" style="left:135.80px;top:169.74px;font-size:6.1px;line-height:6.1px;transform:scaleX(0.9754)">Budget Priorities</div>
<div id="t47" class="t ch" style="left:162.80px;top:178.90px;font-size:5.9px;line-height:5.9px;transform:scaleX(0.9090)">Pop-Up Responses</div>
<div id="t48" class="t ci" style="left:171.10px;top:187.45px;font-size:4.9px;line-height:4.9px;transform:scaleX(0.9892)">664 Participants</div>
<div id="t49" class="t ch" style="left:270.30px;top:178.90px;font-size:5.9px;line-height:5.9px;transform:scaleX(0.9512)">Online Responses</div>
<div id="t50" class="t ci" style="left:275.00px;top:187.45px;font-size:4.9px;line-height:4.9px;transform:scaleX(1.0088)">1,583 Participants</div>
<div id="t51" class="t ax" style="right:333.20px;top:192.46px;font-size:4.3px;line-height:4.3px;transform-origin:100% 0;transform:scaleX(1.0000)">70%</div>
<div id="t52" class="t ax" style="right:333.20px;top:196.99px;font-size:4.3px;line-height:4.3px;transform-origin:100% 0;transform:scaleX(1.0000)">60%</div>
<div id="t53" class="t ax" style="right:333.20px;top:201.52px;font-size:4.3px;line-height:4.3px;transform-origin:100% 0;transform:scaleX(1.0000)">50%</div>
<div id="t54" class="t ax" style="right:333.20px;top:206.05px;font-size:4.3px;line-height:4.3px;transform-origin:100% 0;transform:scaleX(1.0000)">40%</div>
<div id="t55" class="t ax" style="right:333.20px;top:210.58px;font-size:4.3px;line-height:4.3px;transform-origin:100% 0;transform:scaleX(1.0000)">30%</div>
<div id="t56" class="t ax" style="right:333.20px;top:215.11px;font-size:4.3px;line-height:4.3px;transform-origin:100% 0;transform:scaleX(1.0000)">20%</div>
<div id="t57" class="t ax" style="right:333.20px;top:219.64px;font-size:4.3px;line-height:4.3px;transform-origin:100% 0;transform:scaleX(1.0000)">10%</div>
<div id="t58" class="t ax" style="right:333.20px;top:224.17px;font-size:4.3px;line-height:4.3px;transform-origin:100% 0;transform:scaleX(1.0000)">0%</div>
<div id="t59" class="t h" style="left:376.20px;top:37.84px;font-size:6.1px;line-height:6.1px;transform:scaleX(0.9972)">Top 5 Priorities Spotlight</div>
<div id="t60" class="t ri" style="left:381.70px;top:45.94px;font-size:4.8px;line-height:4.8px;transform:scaleX(1.0339)">Based on online participation</div>
<div id="t61" class="t rt" style="left:381.20px;top:52.72px;font-size:6.0px;line-height:6.0px;transform:scaleX(0.9897)">Public Safety</div>
<div id="t62" class="t rbody" style="left:381.20px;top:60.38px;font-size:5.1px;line-height:5.1px;transform:scaleX(0.9831)">The top priority for respondents</div>
<div id="t63" class="t rbody" style="left:381.20px;top:65.58px;font-size:5.1px;line-height:5.1px;transform:scaleX(0.9586)">who either live in <b>townhomes or</b></div>
<div id="t64" class="t rbody" style="left:381.20px;top:70.78px;font-size:5.1px;line-height:5.1px;transform:scaleX(0.9394)"><b>attached homes, South Arlington,</b></div>
<div id="t65" class="t rbody" style="left:381.20px;top:75.78px;font-size:5.1px;line-height:5.1px;transform:scaleX(0.9394)">or are <b>over 50</b></div>
<div id="t66" class="t rt" style="left:381.80px;top:85.22px;font-size:6.0px;line-height:6.0px;transform:scaleX(0.9996)">Transportation</div>
<div id="t67" class="t rbody" style="left:381.80px;top:93.88px;font-size:5.1px;line-height:5.1px;transform:scaleX(0.9945)">The top priority for respondents who</div>
<div id="t68" class="t rbody" style="left:381.80px;top:98.88px;font-size:5.1px;line-height:5.1px;transform:scaleX(0.9434)">either live in <b>apartments or condos,</b></div>
<div id="t69" class="t rbody" style="left:381.80px;top:103.88px;font-size:5.1px;line-height:5.1px;transform:scaleX(0.9685)">are <b>renters</b>, or in their <b>20-30s</b></div>
<div id="t70" class="t rt" style="left:381.20px;top:113.22px;font-size:6.0px;line-height:6.0px;transform:scaleX(0.9919)">Public Works</div>
<div id="t71" class="t rbody" style="left:381.20px;top:121.88px;font-size:5.1px;line-height:5.1px;transform:scaleX(0.9831)">The top priority for respondents</div>
<div id="t72" class="t rbody" style="left:381.20px;top:126.88px;font-size:5.1px;line-height:5.1px;transform:scaleX(0.9672)">who either live in <b>single-family,</b></div>
<div id="t73" class="t rbody" style="left:381.20px;top:131.98px;font-size:5.1px;line-height:5.1px;transform:scaleX(0.9407)"><b>detached homes</b> or in <b>North</b></div>
<div id="t74" class="t rbody" style="left:381.20px;top:137.18px;font-size:5.1px;line-height:5.1px;transform:scaleX(0.9407)"><b>Arlington</b></div>
<div id="t75" class="t rt" style="left:380.80px;top:146.92px;font-size:6.0px;line-height:6.0px;transform:scaleX(0.9838)">Public Health</div>
<div id="t76" class="t rbody" style="left:380.80px;top:154.88px;font-size:5.1px;line-height:5.1px;transform:scaleX(0.9831)">The top priority for respondents</div>
<div id="t77" class="t rbody" style="left:380.80px;top:160.28px;font-size:5.1px;line-height:5.1px;transform:scaleX(0.9502)">who are <b>teens/families with teens</b></div>
<div id="t78" class="t rbody" style="left:380.80px;top:165.38px;font-size:5.1px;line-height:5.1px;transform:scaleX(0.9896)">and in the top 3 priorities for</div>
<div id="t79" class="t rbody" style="left:380.80px;top:170.28px;font-size:5.1px;line-height:5.1px;transform:scaleX(0.9614)">respondents who are <b>Latino</b></div>
<div id="t80" class="t rt" style="left:380.80px;top:180.12px;font-size:6.0px;line-height:6.0px;transform:scaleX(0.9357)">Human Services</div>
<div id="t81" class="t rbody" style="left:380.80px;top:189.18px;font-size:5.1px;line-height:5.1px;transform:scaleX(0.9717)">In the top 3 priorities for</div>
<div id="t82" class="t rbody" style="left:380.80px;top:194.08px;font-size:5.1px;line-height:5.1px;transform:scaleX(0.9575)">respondents who are <b>over 70</b></div>
<div id="t83" class="t h" style="left:364.10px;top:215.14px;font-size:6.1px;line-height:6.1px;transform:scaleX(0.9795)">Housing is Top Priority for Teens</div>
<div id="t84" class="t ri" style="left:380.00px;top:224.74px;font-size:4.8px;line-height:4.8px;transform:scaleX(1.0518)">Based on online participation</div>
<div id="t85" class="t rbody" style="left:380.00px;top:231.57px;font-size:5.0px;line-height:5.0px;transform:scaleX(0.9419)">Housing is also the 2nd priority for</div>
<div id="t86" class="t rbody" style="left:380.00px;top:236.17px;font-size:5.0px;line-height:5.0px;transform:scaleX(0.9190)">respondents who are either <b>Black</b> or</div>
<div id="t87" class="t rbody" style="left:380.00px;top:241.17px;font-size:5.0px;line-height:5.0px;transform:scaleX(0.9400)">in their <b>20s</b> and the 3rd top priority for</div>
<div id="t88" class="t rbody" style="left:380.00px;top:245.77px;font-size:5.0px;line-height:5.0px;transform:scaleX(0.9400)"><b>renters</b></div></body></html>
